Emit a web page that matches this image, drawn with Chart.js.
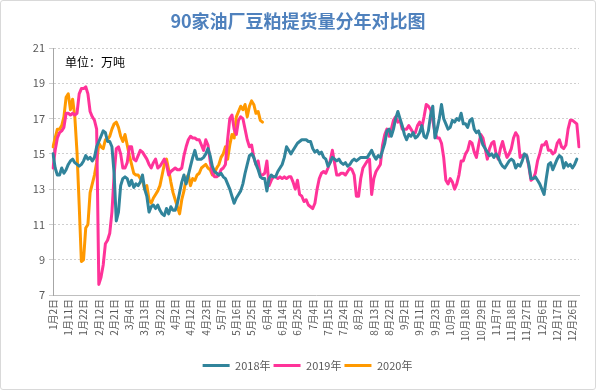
<!DOCTYPE html>
<html>
<head>
<meta charset="utf-8">
<script src="https://cdn.jsdelivr.net/npm/chart.js@4.4.1/dist/chart.umd.min.js"></script>
<style>
html,body{margin:0;padding:0;background:#fff;}
#wrap{position:relative;width:596px;height:390px;overflow:hidden;}
#frame{position:absolute;left:0;top:0;width:594px;height:388px;border:1px solid #D9D9D9;border-radius:3px;pointer-events:none;}
#title{position:absolute;left:0;top:7px;width:596px;text-align:center;font-family:"Noto Sans CJK SC";font-weight:bold;font-size:18px;color:#4F81BD;line-height:26px;}
#unit{position:absolute;left:65px;top:54px;font-family:"Noto Sans CJK SC";font-size:12px;color:#000;line-height:16px;}
canvas{position:absolute;left:0;top:0;}
</style>
</head>
<body>
<div id="wrap">
<canvas id="c" width="596" height="390"></canvas>
<div id="title">90家油厂豆粕提货量分年对比图</div>
<div id="unit">单位：万吨</div>
<div id="frame"></div>
</div>
<script>
// Tick labels shown every 7 trading days on the category axis
const tickLabels = ["1月2日","1月11日","1月22日","2月12日","2月21日","3月4日","3月13日","3月22日","4月2日","4月12日","4月23日","5月7日","5月16日","5月25日","6月4日","6月14日","6月25日","7月4日","7月15日","7月24日","8月2日","8月13日","8月22日","9月2日","9月11日","9月23日","10月9日","10月18日","10月29日","11月7日","11月18日","11月27日","12月6日","12月17日","12月26日"];
const labelStep = 7;
const categoryCount = 242;

const seriesNames = ["2018年","2019年","2020年"];
const seriesColors = ["#31849B","#FF3399","#FF9900"];

const values2018 = [
15.0,14.2,13.8,13.8,14.2,13.9,14.1,14.4,14.6,14.7,
14.5,14.4,14.3,14.4,14.6,14.9,14.7,14.8,14.6,14.8,
15.4,15.7,16.0,16.3,16.2,15.7,15.7,15.4,13.9,11.2,
11.7,13.2,13.6,13.7,13.6,13.2,13.5,13.1,13.3,13.2,
13.4,13.8,13.0,12.6,11.7,12.0,12.1,11.9,
12.1,11.8,11.6,11.5,11.9,11.6,12.0,11.8,11.8,12.2,
12.8,13.4,13.8,13.3,13.8,14.3,14.8,15.2,14.7,14.7,
14.7,14.8,15.0,15.3,14.9,14.3,14.0,13.9,13.8,13.9,
13.7,13.6,13.3,13.0,12.6,12.2,12.5,12.7,12.9,13.3,
13.9,14.4,14.9,15.0,14.8,14.4,14.1,13.7,13.6,
13.6,12.9,13.6,13.8,13.7,13.7,14.0,14.2,14.4,14.8,
15.4,15.2,15.0,15.2,15.4,15.6,15.7,15.8,15.8,15.8,
15.7,15.7,15.3,15.1,15.2,15.0,15.1,14.8,14.7,14.3,
14.5,14.8,14.7,14.6,14.7,14.5,14.4,14.5,14.3,14.4,
14.6,14.7,14.6,14.7,14.8,14.8,14.8,14.8,15.0,15.2,
14.9,14.7,14.9,14.8,15.2,15.6,16.3,16.4,16.0,16.4,
17.0,17.4,17.0,16.6,16.1,15.8,16.1,16.0,16.2,15.9,
16.0,16.2,16.6,16.0,15.9,16.3,17.2,17.7,15.9,16.4,
17.0,17.8,17.0,16.7,16.4,16.5,16.9,16.8,17.0,16.9,
17.3,16.7,16.7,16.5,16.9,17.0,16.4,16.2,16.3,15.9,
15.5,15.3,15.1,14.9,15.0,14.8,15.0,14.8,14.5,14.3,
14.2,14.4,14.6,14.7,14.6,14.2,14.4,14.3,14.6,15.0,
14.9,14.4,13.6,13.6,13.7,13.5,13.3,13.0,12.7,13.6,
14.4,14.5,14.1,14.4,14.7,14.9,14.8,14.2,14.5,14.3,
14.4,14.2,14.4,14.7
];

const values2019 = [
14.2,15.2,15.9,16.2,16.3,16.5,17.3,17.3,17.2,17.3,
17.2,17.3,18.4,18.7,18.7,18.8,18.4,17.4,17.1,16.9,
16.4,7.6,8.0,8.7,9.9,10.1,10.5,11.7,13.8,15.3,
15.4,15.0,14.2,14.2,14.5,15.4,15.4,14.7,14.6,14.9,
15.2,15.1,14.9,14.7,14.4,14.2,14.5,14.7,
14.2,14.3,14.5,14.7,14.4,13.8,14.0,14.1,14.2,14.1,
14.1,14.2,14.9,15.4,15.8,16.0,15.9,15.9,15.8,15.8,
15.5,15.2,15.8,15.5,14.6,13.9,13.7,13.7,13.8,14.1,
14.2,14.4,15.8,17.0,17.2,16.4,16.1,16.9,17.1,17.0,
16.4,15.8,15.4,15.5,14.8,14.4,14.6,13.8,13.8,
13.9,14.6,13.2,13.5,13.7,13.7,13.6,13.7,13.6,13.7,
13.6,13.7,13.7,13.4,13.0,13.5,12.7,12.6,12.3,12.4,
12.1,12.0,11.9,12.2,13.0,13.6,13.9,14.0,13.9,14.2,
14.6,15.2,14.5,13.8,13.8,13.9,13.9,13.8,14.0,14.2,
14.1,13.8,12.6,12.6,13.6,14.2,14.4,14.6,14.7,12.7,
13.6,14.0,14.2,14.4,15.5,16.1,16.4,16.0,16.4,16.9,
17.1,16.8,16.9,16.4,16.4,16.4,16.6,16.4,16.2,16.2,
16.6,16.8,16.5,17.1,17.8,17.7,17.5,16.9,16.2,15.9,
15.9,15.6,14.8,13.5,13.3,13.6,13.4,13.0,13.3,13.8,
14.6,14.6,15.0,15.2,15.7,15.6,15.1,14.8,15.5,16.1,
15.9,15.3,14.7,15.3,15.6,15.7,15.0,14.7,15.3,15.7,
15.2,14.8,15.0,15.3,15.9,16.2,16.0,14.8,14.9,14.9,
14.9,14.3,13.5,13.6,13.9,14.6,15.0,15.5,15.5,15.7,
15.2,15.2,15.0,15.1,15.6,15.8,15.4,15.3,15.5,16.4,
16.9,16.9,16.8,16.7,15.4
];

const values2020 = [
15.4,15.9,16.4,16.4,16.6,17.1,18.2,18.4,17.5,18.1,
17.1,15.1,12.1,8.9,9.0,10.8,11.0,12.8,13.3,13.8,
14.5,15.6,15.4,15.3,15.8,15.8,16.0,16.4,16.7,16.8,
16.5,16.0,15.7,16.1,15.5,14.9,14.4,13.9,13.8,13.8,
13.6,13.5,13.0,13.2,12.4,12.2,12.5,12.7,
12.9,13.2,13.8,14.4,14.7,14.1,13.4,12.8,12.4,12.0,
11.6,12.4,12.9,13.6,13.8,13.2,13.6,13.5,13.8,13.9,
14.2,14.3,14.4,14.2,14.1,13.8,13.9,14.2,14.4,14.8,
15.0,15.4,14.7,15.5,16.1,15.9,17.1,17.4,17.7,17.5,
17.8,17.1,17.7,18.0,17.8,17.3,17.4,16.9,16.8
];

const yMin = 7, yMax = 21, yStep = 2;

const categories = Array.from({length: categoryCount}, (_, i) =>
  (i % labelStep === 0 && tickLabels[i / labelStep] !== undefined) ? tickLabels[i / labelStep] : "");

const seriesValues = [values2018, values2019, values2020];

const datasets = seriesNames.map((name, k) => ({
  label: name,
  data: seriesValues[k],
  borderColor: seriesColors[k],
  backgroundColor: seriesColors[k],
  borderWidth: 3,
  pointRadius: 0,
  pointHoverRadius: 0,
  tension: 0,
  fill: false,
  borderJoinStyle: 'round',
  borderCapStyle: 'round'
}));

const FONT = '"Noto Sans CJK SC", "Noto Sans", sans-serif';

const legendShift = {
  id: 'legendShift',
  afterLayout(chart) {
    const lg = chart.legend;
    if (lg) { lg.left += 13; lg.right += 13; }
  }
};

new Chart(document.getElementById('c'), {
  type: 'line',
  data: { labels: categories, datasets },
  plugins: [legendShift],
  options: {
    responsive: false,
    animation: false,
    layout: { padding: { left: 10, right: 17, top: 48, bottom: 9 } },
    plugins: {
      title: { display: false },
      tooltip: { enabled: false },
      legend: {
        display: true,
        position: 'bottom',
        labels: {
          boxWidth: 27,
          boxHeight: 3,
          padding: 3,
          color: '#595959',
          font: { family: FONT, size: 11 },
          generateLabels: chart => Chart.defaults.plugins.legend.labels.generateLabels(chart).map(l => Object.assign(l, { lineWidth: 0 }))
        }
      }
    },
    scales: {
      x: {
        type: 'category',
        offset: false,
        grid: { display: false, drawTicks: false },
        border: { display: true, color: '#BFBFBF', width: 1 },
        ticks: {
          autoSkip: false,
          maxRotation: 90,
          minRotation: 90,
          padding: 4,
          color: '#595959',
          font: { family: FONT, size: 10 }
        },
        afterFit: s => { s.height = 62; }
      },
      y: {
        min: yMin,
        max: yMax,
        ticks: { stepSize: yStep, padding: 4, color: '#595959', font: { family: FONT, size: 11 } },
        grid: { color: '#CFCFCF', lineWidth: 1, tickLength: 4 },
        border: { display: true, color: '#A6A6A6', width: 1, dash: [2, 2] },
        afterFit: s => { s.width = 43; }
      }
    }
  }
});
</script>
</body>
</html>
